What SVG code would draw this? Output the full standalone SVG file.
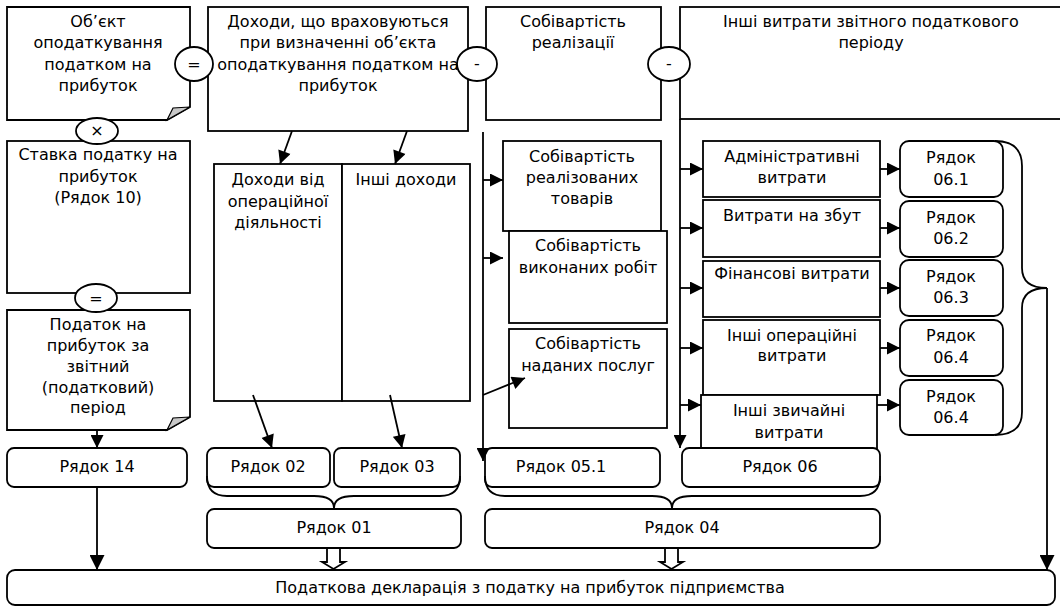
<svg xmlns="http://www.w3.org/2000/svg" width="1060" height="607" viewBox="0 0 1060 607">
<defs>
<style>
.b{fill:#fff;stroke:#000;stroke-width:1.8}
.t{font-family:"DejaVu Sans",Verdana,sans-serif;font-size:16px;text-anchor:middle;fill:#000}
.c{fill:none;stroke:#000;stroke-width:1.8}
.f{fill:#c8c8c8;stroke:#000;stroke-width:1.2}
</style>
<marker id="ah" viewBox="0 0 10 10" refX="10" refY="5" markerWidth="15" markerHeight="13" markerUnits="userSpaceOnUse" orient="auto"><path d="M0,0 L10,5 L0,10 z" fill="#000"/></marker>
<marker id="ahL" viewBox="0 0 10 10" refX="10" refY="5" markerWidth="16" markerHeight="15" markerUnits="userSpaceOnUse" orient="auto"><path d="M0,0 L10,5 L0,10 z" fill="#000"/></marker>
</defs>
<rect width="1060" height="607" fill="#fff"/>

<g id="object">
<path class="b" d="M7,7 H190 V107 L167,120 H7 Z"/>
<path class="f" d="M167,120 L190,107 L173,108 Z"/>
<text class="t" x="98"><tspan x="98" y="27">Об’єкт</tspan><tspan x="98" y="48">оподаткування</tspan><tspan x="98" y="70">податком на</tspan><tspan x="98" y="91">прибуток</tspan></text>
</g>
<g id="rate">
<rect class="b" x="7" y="141" width="183" height="152"/>
<text class="t"><tspan x="98" y="160">Ставка податку на</tspan><tspan x="98" y="182">прибуток</tspan><tspan x="98" y="203">(Рядок 10)</tspan></text>
</g>
<g id="tax">
<path class="b" d="M7,310 H190 V417 L167,430 H7 Z"/>
<path class="f" d="M167,430 L190,417 L173,418 Z"/>
<text class="t"><tspan x="98" y="330">Податок на</tspan><tspan x="98" y="351">прибуток за</tspan><tspan x="98" y="372">звітний</tspan><tspan x="98" y="393">(податковий)</tspan><tspan x="98" y="413">період</tspan></text>
</g>
<g id="r14">
<rect class="b" x="7" y="448" width="180" height="39" rx="7"/>
<text class="t" x="97" y="472">Рядок 14</text>
</g>

<g id="income">
<rect class="b" x="208" y="7" width="260" height="124"/>
<text class="t"><tspan x="338" y="27">Доходи, що враховуються</tspan><tspan x="338" y="48">при визначенні об’єкта</tspan><tspan x="338" y="70">оподаткування податком на</tspan><tspan x="338" y="91">прибуток</tspan></text>
</g>
<g id="opincome">
<rect class="b" x="214" y="164" width="128" height="237"/>
<text class="t"><tspan x="278" y="185">Доходи від</tspan><tspan x="278" y="207">операційної</tspan><tspan x="278" y="228">діяльності</tspan></text>
</g>
<g id="otherincome">
<rect class="b" x="342" y="164" width="128" height="237"/>
<text class="t" x="406" y="185">Інші доходи</text>
</g>
<g id="r02">
<rect class="b" x="207" y="448" width="123" height="39" rx="7"/>
<text class="t" x="268" y="472">Рядок 02</text>
</g>
<g id="r03">
<rect class="b" x="334" y="448" width="126" height="39" rx="7"/>
<text class="t" x="397" y="472">Рядок 03</text>
</g>
<g id="r01">
<rect class="b" x="207" y="509" width="254" height="39" rx="7"/>
<text class="t" x="334" y="533">Рядок 01</text>
</g>

<g id="cost">
<rect class="b" x="486" y="7" width="175" height="113"/>
<text class="t"><tspan x="573" y="27">Собівартість</tspan><tspan x="573" y="48">реалізації</tspan></text>
</g>
<g id="cost-goods">
<rect class="b" x="503" y="141" width="158" height="90"/>
<text class="t"><tspan x="582" y="162">Собівартість</tspan><tspan x="582" y="183">реалізованих</tspan><tspan x="582" y="204">товарів</tspan></text>
</g>
<g id="cost-works">
<rect class="b" x="509" y="231" width="158" height="92"/>
<text class="t"><tspan x="588" y="251">Собівартість</tspan><tspan x="588" y="273">виконаних робіт</tspan></text>
</g>
<g id="cost-services">
<rect class="b" x="509" y="329" width="158" height="99"/>
<text class="t"><tspan x="588" y="349">Собівартість</tspan><tspan x="588" y="371">наданих послуг</tspan></text>
</g>

<g id="other-exp">
<rect class="b" x="680" y="7" width="400" height="112"/>
<text class="t"><tspan x="871" y="27">Інші витрати звітного податкового</tspan><tspan x="871" y="48">періоду</tspan></text>
</g>
<g id="adm">
<rect class="b" x="703" y="141" width="177" height="56"/>
<text class="t"><tspan x="792" y="162">Адміністративні</tspan><tspan x="792" y="183">витрати</tspan></text>
</g>
<g id="sales">
<rect class="b" x="703" y="200" width="177" height="57"/>
<text class="t" x="792" y="221">Витрати на збут</text>
</g>
<g id="fin">
<rect class="b" x="703" y="261" width="177" height="56"/>
<text class="t" x="792" y="279">Фінансові витрати</text>
</g>
<g id="otherop">
<rect class="b" x="703" y="320" width="177" height="75"/>
<text class="t"><tspan x="792" y="341">Інші операційні</tspan><tspan x="792" y="361">витрати</tspan></text>
</g>
<g id="otherord">
<rect class="b" x="701" y="395" width="176" height="56"/>
<text class="t"><tspan x="789" y="416">Інші звичайні</tspan><tspan x="789" y="438">витрати</tspan></text>
</g>
<g id="r061">
<rect class="b" x="900" y="141" width="103" height="56" rx="9"/>
<text class="t"><tspan x="951" y="163">Рядок</tspan><tspan x="951" y="185">06.1</tspan></text>
</g>
<g id="r062">
<rect class="b" x="900" y="201" width="103" height="56" rx="9"/>
<text class="t"><tspan x="951" y="223">Рядок</tspan><tspan x="951" y="244">06.2</tspan></text>
</g>
<g id="r063">
<rect class="b" x="900" y="260" width="103" height="56" rx="9"/>
<text class="t"><tspan x="951" y="282">Рядок</tspan><tspan x="951" y="303">06.3</tspan></text>
</g>
<g id="r064a">
<rect class="b" x="900" y="320" width="103" height="56" rx="9"/>
<text class="t"><tspan x="951" y="341">Рядок</tspan><tspan x="951" y="363">06.4</tspan></text>
</g>
<g id="r064b">
<rect class="b" x="900" y="380" width="103" height="55" rx="9"/>
<text class="t"><tspan x="951" y="402">Рядок</tspan><tspan x="951" y="423">06.4</tspan></text>
</g>
<g id="r051">
<rect class="b" x="485" y="448" width="175" height="39" rx="7"/>
<text class="t" x="561" y="472">Рядок 05.1</text>
</g>
<g id="r06">
<rect class="b" x="682" y="448" width="198" height="39" rx="7"/>
<text class="t" x="780" y="472">Рядок 06</text>
</g>
<g id="r04">
<rect class="b" x="485" y="509" width="395" height="39" rx="7"/>
<text class="t" x="682" y="533">Рядок 04</text>
</g>
<g id="declaration">
<rect class="b" x="7" y="570" width="1048" height="35" rx="8"/>
<text class="t" x="530" y="593">Податкова декларація з податку на прибуток підприємства</text>
</g>

<g id="connectors">
<line class="c" x1="97" y1="430" x2="97" y2="448" marker-end="url(#ah)"/>
<line class="c" x1="97" y1="487" x2="97" y2="570" marker-end="url(#ahL)"/>
<line class="c" x1="292" y1="131" x2="280" y2="164" marker-end="url(#ah)"/>
<line class="c" x1="407" y1="131" x2="395" y2="164" marker-end="url(#ah)"/>
<line class="c" x1="253" y1="395" x2="272" y2="448" marker-end="url(#ah)"/>
<line class="c" x1="390" y1="395" x2="402" y2="448" marker-end="url(#ah)"/>
<path class="c" d="M207,476 Q207,496 227,496 L314,496 Q334,496 334,508 Q334,496 354,496 L440,496 Q460,496 460,476"/>
<path class="b" d="M327,548 H340 V562 H345 L333.5,569 L322,562 H327 Z"/>
<line class="c" x1="483" y1="132" x2="483" y2="461" marker-end="url(#ah)"/>
<line class="c" x1="483" y1="180" x2="503" y2="180" marker-end="url(#ah)"/>
<line class="c" x1="483" y1="258" x2="503" y2="258" marker-end="url(#ah)"/>
<line class="c" x1="483" y1="395" x2="525" y2="378" marker-end="url(#ah)"/>
<line class="c" x1="680" y1="119" x2="680" y2="448" marker-end="url(#ah)"/>
<line class="c" x1="680" y1="169" x2="703" y2="169" marker-end="url(#ah)"/>
<line class="c" x1="680" y1="228" x2="703" y2="228" marker-end="url(#ah)"/>
<line class="c" x1="680" y1="288" x2="703" y2="288" marker-end="url(#ah)"/>
<line class="c" x1="680" y1="348" x2="703" y2="348" marker-end="url(#ah)"/>
<line class="c" x1="680" y1="405" x2="701" y2="405" marker-end="url(#ah)"/>
<line class="c" x1="880" y1="169" x2="900" y2="169" marker-end="url(#ah)"/>
<line class="c" x1="880" y1="228" x2="900" y2="228" marker-end="url(#ah)"/>
<line class="c" x1="880" y1="288" x2="900" y2="288" marker-end="url(#ah)"/>
<line class="c" x1="880" y1="348" x2="900" y2="348" marker-end="url(#ah)"/>
<line class="c" x1="877" y1="405" x2="900" y2="405" marker-end="url(#ah)"/>
<path class="c" d="M995,141 Q1022,141 1022,166 L1022,268 Q1022,288 1047,288 Q1022,288 1022,308 L1022,412 Q1022,435 995,435"/>
<line class="c" x1="1047" y1="288" x2="1047" y2="570" marker-end="url(#ahL)"/>
<path class="c" d="M485,476 Q485,496 505,496 L652,496 Q672,496 672,508 Q672,496 692,496 L860,496 Q880,496 880,476"/>
<path class="b" d="M665,548 H678 V562 H683 L671.5,569 L660,562 H665 Z"/>
</g>

<g id="op-eq1">
<ellipse class="b" cx="194" cy="64" rx="19" ry="17"/>
<text class="t" x="194" y="70">=</text>
</g>
<g id="op-minus1">
<ellipse class="b" cx="477" cy="64" rx="20" ry="17"/>
<text class="t" x="477" y="69">-</text>
</g>
<g id="op-minus2">
<ellipse class="b" cx="669" cy="64" rx="21" ry="17"/>
<text class="t" x="669" y="69">-</text>
</g>
<g id="op-mul">
<ellipse class="b" cx="97" cy="131" rx="21" ry="13"/>
<text class="t" x="97" y="136">×</text>
</g>
<g id="op-eq2">
<ellipse class="b" cx="96" cy="298" rx="21" ry="14"/>
<text class="t" x="96" y="304">=</text>
</g>
</svg>
